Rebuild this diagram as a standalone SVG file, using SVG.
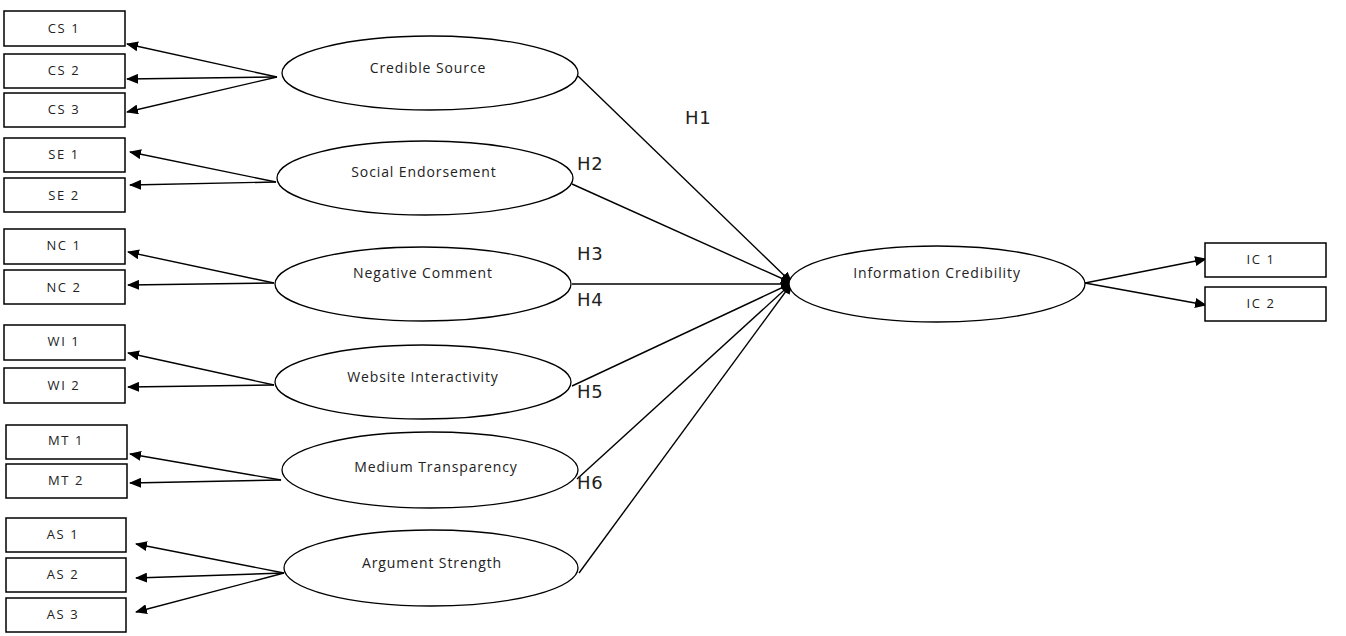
<svg xmlns="http://www.w3.org/2000/svg" width="1346" height="636" viewBox="0 0 1346 636">
<style>
.box{fill:#fff;stroke:#000;stroke-width:1.5}
.ell{fill:#fff;stroke:#000;stroke-width:1.3}
.bt{font-family:"Open Sans","DejaVu Sans",sans-serif;font-size:13px;letter-spacing:1.6px;fill:#222;text-anchor:middle}
.et{font-family:"Open Sans","DejaVu Sans",sans-serif;font-size:14px;letter-spacing:0.9px;fill:#222;text-anchor:middle}
.ht{font-family:"DejaVu Sans","Liberation Sans",sans-serif;font-size:18px;letter-spacing:0.6px;fill:#222}
.ln{stroke:#000;stroke-width:1.4;fill:none}
</style>
<defs>
<marker id="ah" markerUnits="userSpaceOnUse" markerWidth="12" markerHeight="10" refX="11" refY="5" orient="auto">
<path d="M0,0 L12,5 L0,10 Z" fill="#000"/>
</marker>
</defs>
<g id="connectors">
<line class="ln" x1="277" y1="77" x2="127" y2="44" marker-end="url(#ah)"/>
<line class="ln" x1="277" y1="77" x2="127" y2="79" marker-end="url(#ah)"/>
<line class="ln" x1="277" y1="77" x2="127" y2="112" marker-end="url(#ah)"/>
<line class="ln" x1="276" y1="182" x2="130" y2="152" marker-end="url(#ah)"/>
<line class="ln" x1="276" y1="182" x2="130" y2="185" marker-end="url(#ah)"/>
<line class="ln" x1="274" y1="283" x2="128" y2="252" marker-end="url(#ah)"/>
<line class="ln" x1="274" y1="283" x2="128" y2="285" marker-end="url(#ah)"/>
<line class="ln" x1="274" y1="385" x2="128" y2="353" marker-end="url(#ah)"/>
<line class="ln" x1="274" y1="385" x2="128" y2="387" marker-end="url(#ah)"/>
<line class="ln" x1="281" y1="480" x2="130" y2="454" marker-end="url(#ah)"/>
<line class="ln" x1="281" y1="480" x2="130" y2="483" marker-end="url(#ah)"/>
<line class="ln" x1="284" y1="573" x2="136" y2="544" marker-end="url(#ah)"/>
<line class="ln" x1="284" y1="573" x2="136" y2="578" marker-end="url(#ah)"/>
<line class="ln" x1="284" y1="573" x2="136" y2="612" marker-end="url(#ah)"/>
<line class="ln" x1="578" y1="76" x2="792" y2="283" marker-end="url(#ah)"/>
<line class="ln" x1="572" y1="184" x2="792" y2="283" marker-end="url(#ah)"/>
<line class="ln" x1="572" y1="284" x2="792" y2="284" marker-end="url(#ah)"/>
<line class="ln" x1="572" y1="386" x2="792" y2="283" marker-end="url(#ah)"/>
<line class="ln" x1="577" y1="479" x2="792" y2="283" marker-end="url(#ah)"/>
<line class="ln" x1="579" y1="573" x2="792" y2="283" marker-end="url(#ah)"/>
<line class="ln" x1="1085" y1="283" x2="1206" y2="259" marker-end="url(#ah)"/>
<line class="ln" x1="1085" y1="283" x2="1206" y2="305" marker-end="url(#ah)"/>
</g>
<g id="hyp-labels">
<text class="ht" x="685" y="124">H1</text>
<text class="ht" x="577" y="170">H2</text>
<text class="ht" x="577" y="260">H3</text>
<text class="ht" x="577" y="306">H4</text>
<text class="ht" x="577" y="398">H5</text>
<text class="ht" x="577" y="489">H6</text>
</g>
<g id="cs1"><rect class="box" x="4" y="11" width="121" height="35"/><text class="bt" x="64" y="33">CS 1</text></g>
<g id="cs2"><rect class="box" x="4" y="54" width="121" height="34"/><text class="bt" x="64" y="75">CS 2</text></g>
<g id="cs3"><rect class="box" x="4" y="93" width="121" height="34"/><text class="bt" x="64" y="114">CS 3</text></g>
<g id="se1"><rect class="box" x="4" y="138" width="121" height="34"/><text class="bt" x="64" y="159">SE 1</text></g>
<g id="se2"><rect class="box" x="4" y="178" width="121" height="34"/><text class="bt" x="64" y="200">SE 2</text></g>
<g id="nc1"><rect class="box" x="4" y="229" width="121" height="35"/><text class="bt" x="64" y="250">NC 1</text></g>
<g id="nc2"><rect class="box" x="4" y="270" width="121" height="34"/><text class="bt" x="64" y="292">NC 2</text></g>
<g id="wi1"><rect class="box" x="4" y="325" width="121" height="35"/><text class="bt" x="64" y="346">WI 1</text></g>
<g id="wi2"><rect class="box" x="4" y="368" width="121" height="35"/><text class="bt" x="64" y="390">WI 2</text></g>
<g id="mt1"><rect class="box" x="6" y="425" width="121" height="34"/><text class="bt" x="66" y="445">MT 1</text></g>
<g id="mt2"><rect class="box" x="6" y="464" width="121" height="34"/><text class="bt" x="66" y="485">MT 2</text></g>
<g id="as1"><rect class="box" x="6" y="518" width="120" height="34"/><text class="bt" x="63" y="539">AS 1</text></g>
<g id="as2"><rect class="box" x="6" y="558" width="120" height="34"/><text class="bt" x="63" y="579">AS 2</text></g>
<g id="as3"><rect class="box" x="6" y="598" width="120" height="34"/><text class="bt" x="63" y="619">AS 3</text></g>
<g id="ic1"><rect class="box" x="1205" y="243" width="121" height="34"/><text class="bt" x="1261" y="264">IC 1</text></g>
<g id="ic2"><rect class="box" x="1205" y="287" width="121" height="34"/><text class="bt" x="1261" y="308">IC 2</text></g>
<g id="credible-source"><ellipse class="ell" cx="430" cy="73" rx="148" ry="37"/><text class="et" x="428" y="73">Credible Source</text></g>
<g id="social-endorsement"><ellipse class="ell" cx="425" cy="178" rx="148" ry="37"/><text class="et" x="424" y="177">Social Endorsement</text></g>
<g id="negative-comment"><ellipse class="ell" cx="423" cy="284" rx="148" ry="37"/><text class="et" x="423" y="278">Negative Comment</text></g>
<g id="website-interactivity"><ellipse class="ell" cx="423" cy="382" rx="148" ry="37"/><text class="et" x="423" y="382">Website Interactivity</text></g>
<g id="medium-transparency"><ellipse class="ell" cx="430" cy="470" rx="148" ry="38"/><text class="et" x="436" y="472">Medium Transparency</text></g>
<g id="argument-strength"><ellipse class="ell" cx="431" cy="568" rx="147" ry="38"/><text class="et" x="432" y="568">Argument Strength</text></g>
<g id="information-credibility"><ellipse class="ell" cx="937" cy="284" rx="148" ry="38"/><text class="et" x="937" y="278">Information Credibility</text></g>
</svg>
